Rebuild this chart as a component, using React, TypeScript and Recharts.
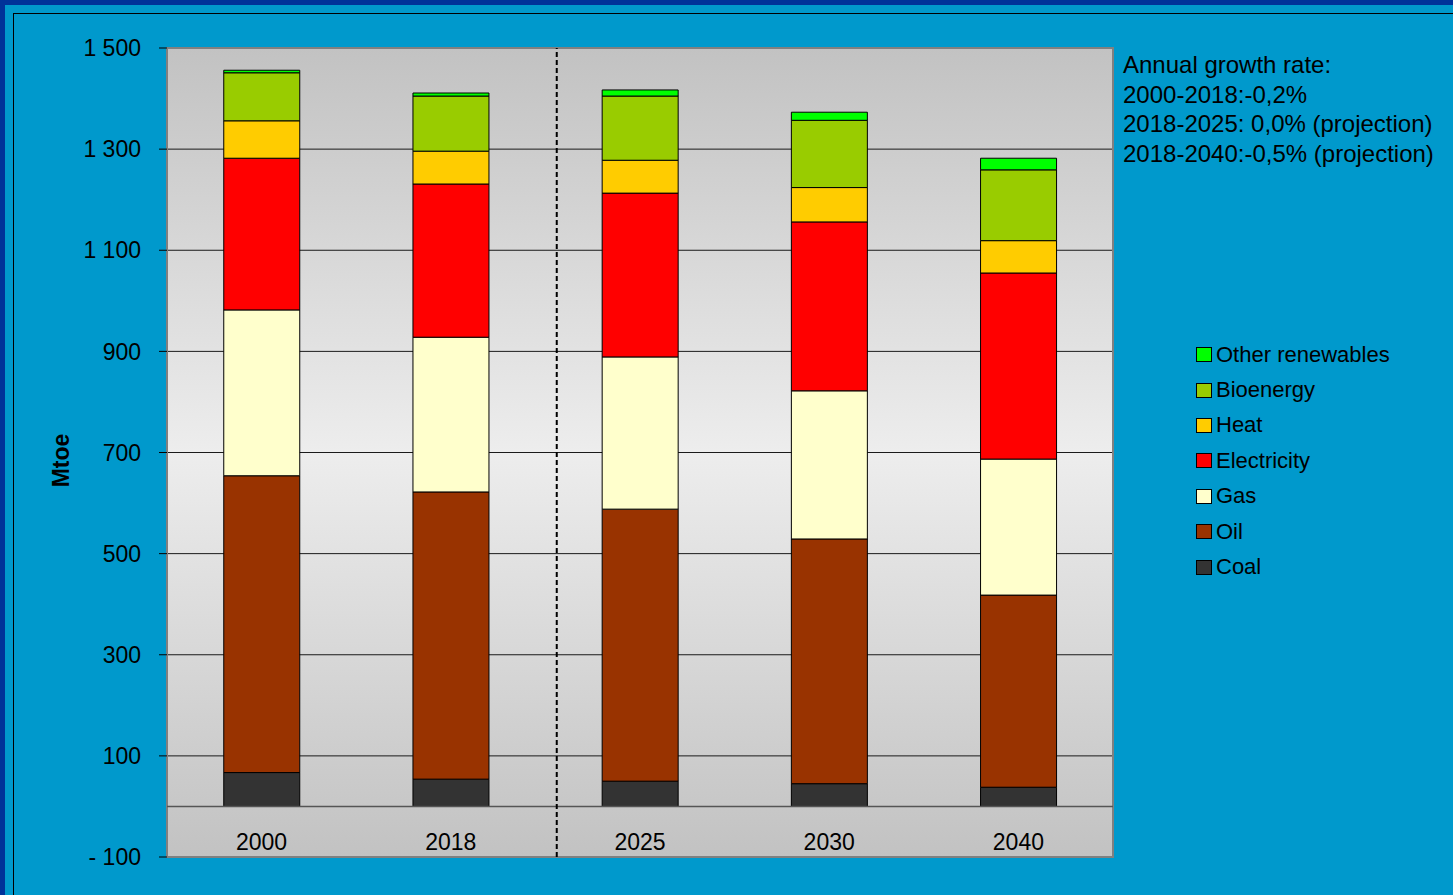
import React from "react";
import {
  Bar,
  BarChart,
  CartesianGrid,
  ReferenceArea,
  ReferenceLine,
  XAxis,
  YAxis,
} from "recharts";

const FONT = '"Liberation Sans", Arial, sans-serif';

// final energy consumption by carrier, Mtoe
const years = ["2000", "2018", "2025", "2030", "2040"];
const coal = [67, 54, 50, 45, 38];
const oil = [587, 568, 538, 484, 380];
const gas = [328, 306, 301, 293, 269];
const electricity = [300, 303, 324, 334, 368];
const heat = [74, 65, 65, 68, 64];
const bioenergy = [95, 109, 127, 133, 140];
const otherRenewables = [5, 6, 12, 16, 23];

const yTicks = [-100, 100, 300, 500, 700, 900, 1100, 1300, 1500];

const growthNotes = [
  "Annual growth rate:",
  "2000-2018:-0,2%",
  "2018-2025: 0,0% (projection)",
  "2018-2040:-0,5% (projection)",
];

// stacking order, bottom to top
const series = [
  { key: "coal", name: "Coal", color: "#333333", values: coal },
  { key: "oil", name: "Oil", color: "#993300", values: oil },
  { key: "gas", name: "Gas", color: "#FFFFCC", values: gas },
  { key: "electricity", name: "Electricity", color: "#FF0000", values: electricity },
  { key: "heat", name: "Heat", color: "#FFCC00", values: heat },
  { key: "bioenergy", name: "Bioenergy", color: "#99CC00", values: bioenergy },
  { key: "other", name: "Other renewables", color: "#00FF00", values: otherRenewables },
];

const data = years.map((year, i) => {
  // slot = centre of the category on a 0..5 linear scale
  const row: Record<string, any> = { year, slot: i + 0.5 };
  series.forEach((s) => {
    row[s.key] = s.values[i];
  });
  return row;
});

// projection divider sits a little right of the 2018/2025 boundary
const dividerPos = 2.06;

function formatTick(value: number) {
  const abs = Math.abs(value)
    .toString()
    .replace(/\B(?=(\d{3})+(?!\d))/g, " ");
  return value < 0 ? `- ${abs}` : abs;
}

function YearTick(props: any) {
  const { x, y, payload } = props;
  return (
    <text x={x} y={y - 7} textAnchor="middle" fontSize={23} fill="#000" fontFamily={FONT}>
      {payload.value}
    </text>
  );
}

function UnitLabel(props: any) {
  const { viewBox } = props;
  const x = viewBox.x - 6;
  const y = viewBox.y + viewBox.height / 2 + 8;
  return (
    <text
      x={x}
      y={y}
      transform={`rotate(-90, ${x}, ${y})`}
      textAnchor="middle"
      dominantBaseline="central"
      fontSize={23}
      fontWeight="bold"
      fill="#000"
      fontFamily={FONT}
    >
      Mtoe
    </text>
  );
}

function LegendBox() {
  return (
    <div
      style={{
        position: "absolute",
        left: 1196,
        top: 337,
        fontFamily: FONT,
        fontSize: 22,
        color: "#000",
      }}
    >
      {[...series].reverse().map((s) => (
        <div key={s.key} style={{ display: "flex", alignItems: "center", height: 35.4 }}>
          <span
            style={{
              display: "inline-block",
              width: 14,
              height: 13,
              background: s.color,
              border: "1px solid #000",
              marginRight: 4,
            }}
          />
          <span>{s.name}</span>
        </div>
      ))}
    </div>
  );
}

export default function App() {
  return (
    <div
      style={{
        position: "absolute",
        left: 0,
        top: 0,
        width: 1453,
        height: 895,
        background: "#003399",
        overflow: "hidden",
      }}
    >
      <div
        style={{
          position: "absolute",
          left: 5,
          top: 5,
          right: 0,
          bottom: 0,
          background: "#0099CC",
        }}
      />
      <div
        style={{
          position: "absolute",
          left: 13,
          top: 13,
          right: -2,
          bottom: -2,
          borderLeft: "1px solid #000",
          borderTop: "1px solid #000",
        }}
      />
      <div
        style={{
          position: "absolute",
          left: 1123,
          top: 50,
          fontFamily: FONT,
          fontSize: 24,
          lineHeight: "29.5px",
          color: "#000",
          whiteSpace: "pre",
        }}
      >
        {growthNotes.map((line) => (
          <div key={line}>{line}</div>
        ))}
      </div>
      <LegendBox />
      <div style={{ position: "absolute", left: 0, top: 0 }}>
        <BarChart
          width={1453}
          height={895}
          data={data}
          margin={{ top: 48, right: 340, bottom: 37, left: 67 }}
          barCategoryGap="30%"
          style={{ fontFamily: FONT }}
        >
          <defs>
            <linearGradient id="plotBg" x1="0" y1="0" x2="0" y2="1">
              <stop offset="0%" stopColor="#C2C2C2" />
              <stop offset="50%" stopColor="#EDEDED" />
              <stop offset="100%" stopColor="#C2C2C2" />
            </linearGradient>
          </defs>
          <CartesianGrid
            vertical={false}
            stroke="#1a1a1a"
            strokeWidth={1}
            fill="url(#plotBg)"
            fillOpacity={1}
          />
          <XAxis
            dataKey="year"
            height={1}
            axisLine={false}
            tickLine={false}
            tickSize={0}
            tickMargin={0}
            tick={<YearTick />}
            interval={0}
          />
          <XAxis
            xAxisId="pos"
            dataKey="slot"
            type="number"
            domain={[0, 5]}
            allowDataOverflow
            hide
          />
          <YAxis
            width={100}
            domain={[-100, 1500]}
            ticks={yTicks}
            interval={0}
            axisLine={false}
            tickLine={{ stroke: "#000" }}
            tickSize={8}
            tickMargin={18}
            tickFormatter={formatTick}
            tick={{ fill: "#000", fontSize: 23, fontFamily: FONT }}
            label={<UnitLabel />}
          />
          <ReferenceLine y={0} stroke="#555555" strokeWidth={1.5} />
          {series.map((s) => (
            <Bar
              key={s.key}
              dataKey={s.key}
              name={s.name}
              stackId="a"
              fill={s.color}
              stroke="#000"
              strokeWidth={1}
              isAnimationActive={false}
            />
          ))}
          <ReferenceLine
            xAxisId="pos"
            x={dividerPos}
            stroke="#000"
            strokeWidth={2}
            strokeDasharray="5 3"
          />
          <ReferenceArea y1={-100} y2={1500} fill="none" stroke="#808080" strokeWidth={2} />
        </BarChart>
      </div>
    </div>
  );
}
